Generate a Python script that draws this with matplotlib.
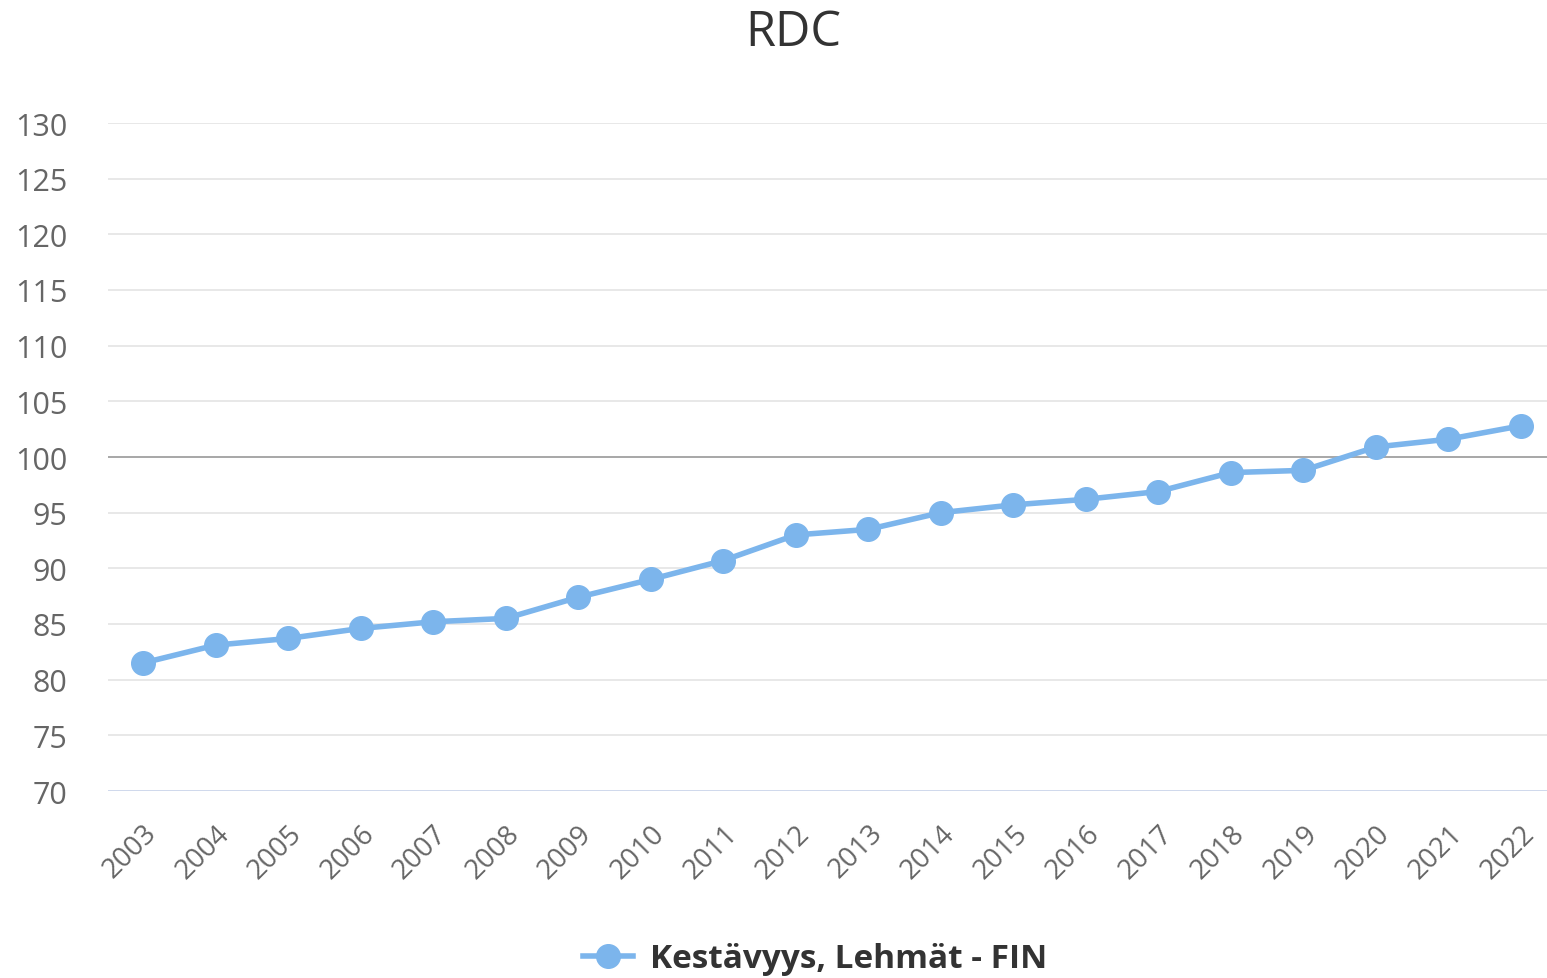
import matplotlib
matplotlib.use("Agg")
import matplotlib.pyplot as plt
from matplotlib.lines import Line2D

plt.rcParams['font.family'] = ['Open Sans', 'DejaVu Sans']

years = ["2003", "2004", "2005", "2006", "2007", "2008", "2009", "2010", "2011", "2012",
         "2013", "2014", "2015", "2016", "2017", "2018", "2019", "2020", "2021", "2022"]
values = [81.5, 83.1, 83.7, 84.6, 85.2, 85.5, 87.4, 89.0, 90.7, 93.0,
          93.5, 95.0, 95.7, 96.2, 96.9, 98.6, 98.8, 100.9, 101.6, 102.8]
y_ticks = [70, 75, 80, 85, 90, 95, 100, 105, 110, 115, 120, 125, 130]
series_name = "Kestävyys, Lehmät - FIN"
title = "RDC"

line_color = "#7cb5ec"

fig = plt.figure(figsize=(15.47, 9.79), dpi=100)
ax = fig.add_axes([108 / 1547, 1 - 792 / 979, (1547 - 108) / 1547, 668 / 979])

x = list(range(len(years)))
ax.plot(x, values, color=line_color, linewidth=4, marker="o", markersize=17,
        markerfacecolor=line_color, markeredgecolor=line_color, zorder=3,
        solid_capstyle="round")

ax.set_ylim(70, 130)
ax.set_xlim(-0.483, 19.36)
ax.set_yticks(y_ticks)
ax.set_yticklabels([str(v) for v in y_ticks])
ax.set_xticks(x)
ax.set_xticklabels(years, rotation=45, ha="right", va="top", rotation_mode="anchor")

for v in y_ticks:
    if v == 100:
        ax.axhline(v, color="#a0a0a0", linewidth=1.3, zorder=1)
    elif v == 70:
        ax.axhline(v, color="#ccd6eb", linewidth=1.3, zorder=1)
    else:
        ax.axhline(v, color="#e6e6e6", linewidth=1.3, zorder=1)

for s in ax.spines.values():
    s.set_visible(False)
ax.tick_params(axis="y", length=0, pad=29, labelsize=22, labelcolor="#666666")
ax.tick_params(axis="x", length=0, pad=20, labelsize=20, labelcolor="#666666")
for lbl in ax.get_yticklabels():
    lbl.set_horizontalalignment("right")

fig.text(0.513, 1 - 33 / 979, title, ha="center", va="center", fontsize=35, color="#333333")

handle = Line2D([0], [0], color=line_color, linewidth=4, marker="o", markersize=17,
                markerfacecolor=line_color, markeredgecolor=line_color)
fig.legend([handle], [series_name], loc="center", bbox_to_anchor=(0.527, 1 - 960 / 979),
           frameon=False, handlelength=1.5, handletextpad=0.5,
           prop={"weight": "bold", "size": 24}, labelcolor="#333333")

fig.savefig("out.png", dpi=100, facecolor="white")
